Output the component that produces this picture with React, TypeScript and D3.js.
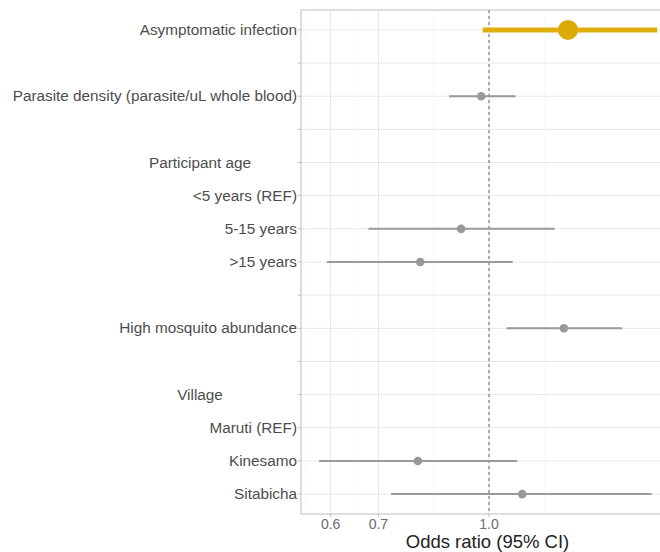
import React from "react";
import * as d3 from "d3";

const rowLabels = [
  "Asymptomatic infection",
  "",
  "Parasite density (parasite/uL whole blood)",
  "",
  "Participant age",
  "<5 years (REF)",
  "5-15 years",
  ">15 years",
  "",
  "High mosquito abundance",
  "",
  "Village",
  "Maruti (REF)",
  "Kinesamo",
  "Sitabicha",
];
const isHeader = [false, false, false, false, true, false, false, false, false, false, false, true, false, false, false];
const oddsRatio: (number | null)[] = [1.29, null, 0.975, null, null, null, 0.914, 0.801, null, 1.273, null, null, null, 0.795, 1.113];
const ciLower: (number | null)[] = [0.98, null, 0.879, null, null, null, 0.678, 0.593, null, 1.058, null, null, null, 0.578, 0.729];
const ciUpper: (number | null)[] = [1.72, null, 1.089, null, null, null, 1.236, 1.079, null, 1.536, null, null, null, 1.095, 1.69];
const highlight = [true, false, false, false, false, false, false, false, false, false, false, false, false, false, false];
const xTicks = [0.6, 0.7, 1.0];
const xDomain: [number, number] = [0.5453, 1.816];

const W = 660;
const H = 552;
const left = 301;
const right = 674;
const top = 10;
const bottom = 514;

export default function App() {
  const x = d3.scaleLog().domain(xDomain).range([left, right]);
  const y = d3
    .scalePoint<number>()
    .domain(rowLabels.map((_, i) => i))
    .range([top, bottom])
    .padding(0.6);

  const lt = xTicks.map((t) => Math.log(t));
  const ext = [lt[0] - (lt[1] - lt[0]), ...lt, lt[lt.length - 1] + (lt[lt.length - 1] - lt[lt.length - 2])];
  const minor: number[] = [];
  for (let i = 0; i < ext.length - 1; i++) minor.push(Math.exp((ext[i] + ext[i + 1]) / 2));

  return (
    <svg width={W} height={H} style={{ position: "absolute", left: 0, top: 0, background: "#fff" }} fontFamily="Liberation Sans, Arial, sans-serif">
      <rect x={0} y={0} width={W} height={H} fill="#fff" />
      {minor.map((m, i) => (
        <line key={"mi" + i} x1={x(m)} x2={x(m)} y1={top} y2={bottom} stroke="#f2f2f2" strokeWidth={0.6} />
      ))}
      {xTicks.map((t) => (
        <line key={"mx" + t} x1={x(t)} x2={x(t)} y1={top} y2={bottom} stroke="#e6e6e6" strokeWidth={1} />
      ))}
      {rowLabels.map((_, i) => (
        <line key={"hy" + i} x1={left} x2={right} y1={y(i)} y2={y(i)} stroke="#e8e8e8" strokeWidth={1} />
      ))}
      <line x1={x(1)} x2={x(1)} y1={top} y2={bottom} stroke="#444" strokeWidth={0.8} strokeDasharray="3,3" />
      {rowLabels.map((_, i) => {
        const o = oddsRatio[i];
        const lo = ciLower[i];
        const hi = ciUpper[i];
        if (o == null || lo == null || hi == null) return null;
        const hl = highlight[i];
        return (
          <g key={"m" + i}>
            <line x1={x(lo)} x2={x(hi)} y1={y(i)} y2={y(i)} stroke={hl ? "#DFAE0E" : "#9a9a9a"} strokeWidth={hl ? 5 : 2} />
            <circle cx={x(o)} cy={y(i)} r={hl ? 10 : 4.3} fill={hl ? "#DDAA05" : "#999999"} />
          </g>
        );
      })}
      <rect x={left} y={top} width={right - left} height={bottom - top} fill="none" stroke="#bdbdbd" strokeWidth={1} />
      {rowLabels.map((l, i) => (
        <g key={"yl" + i}>
          <line x1={left - 3} x2={left} y1={y(i)} y2={y(i)} stroke="#bdbdbd" strokeWidth={1} />
          <text
            x={isHeader[i] ? 200 : left - 4}
            y={(y(i) as number) + 5}
            textAnchor={isHeader[i] ? "middle" : "end"}
            fontSize={15.3}
            fill="#4d4d4d"
          >
            {l}
          </text>
        </g>
      ))}
      {xTicks.map((t) => (
        <g key={"xt" + t}>
          <line x1={x(t)} x2={x(t)} y1={bottom} y2={bottom + 3} stroke="#bdbdbd" strokeWidth={1} />
          <text x={x(t)} y={528.5} textAnchor="middle" fontSize={14} fill="#6b6b6b">
            {d3.format(".1f")(t)}
          </text>
        </g>
      ))}
      <text x={(left + right) / 2} y={548} textAnchor="middle" fontSize={18.5} fill="#222">
        Odds ratio (95% CI)
      </text>
    </svg>
  );
}
